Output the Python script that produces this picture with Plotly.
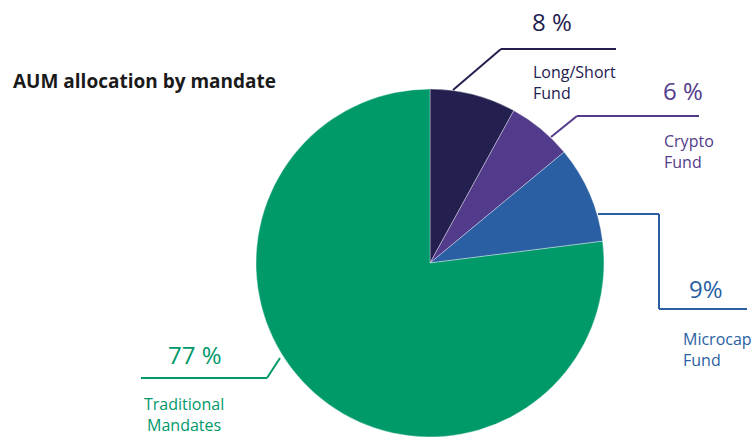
import plotly.graph_objects as go

W, H = 752, 437

# ---- data ----
categories = ["Long/Short Fund", "Crypto Fund", "Microcap Fund", "Traditional Mandates"]
values = [8, 6, 9, 77]
pct_labels = ["8 %", "6 %", "9%", "77 %"]
name_labels = ["Long/Short<br>Fund", "Crypto<br>Fund", "Microcap<br>Fund", "Traditional<br>Mandates"]
colors = ["#23204f", "#533b8b", "#2a5fa3", "#00996a"]

def px(x):
    return x / W

def py(y):
    return 1 - y / H

# pie geometry (pixels)
cx, cy, r = 430, 263, 174

fig = go.Figure(go.Pie(
    labels=categories,
    values=values,
    sort=False,
    direction="clockwise",
    rotation=0,
    marker=dict(colors=colors, line=dict(color="rgba(255,255,255,0.6)", width=0.6)),
    textinfo="none",
    hoverinfo="label+percent",
    domain=dict(x=[px(cx - r), px(cx + r)], y=[py(cy + r), py(cy - r)]),
    showlegend=False,
))

font_family = "'Open Sans', sans-serif"

# leader line paths in pixel coords
leaders = [
    [(453, 90), (501, 49), (616, 49)],
    [(551, 137), (577, 116), (699, 116)],
    [(598, 214), (659, 214), (659, 309), (747, 309)],
    [(280, 358), (267, 378), (141, 378)],
]
shapes = []
for pts, c in zip(leaders, colors):
    for (x0, y0), (x1, y1) in zip(pts[:-1], pts[1:]):
        shapes.append(dict(type="line", xref="paper", yref="paper",
                           x0=px(x0), y0=py(y0), x1=px(x1), y1=py(y1),
                           line=dict(color=c, width=2)))

# percent labels (center positions) and name labels
pct_pos = [(552, 22), (683, 90), (706, 288), (195, 354)]
name_pos = [(531, 83, "left"), (662, 151, "left"), (681, 349, "left"), (184, 414, "center")]

annotations = []
for t, (x, y), c in zip(pct_labels, pct_pos, colors):
    annotations.append(dict(text=t, x=px(x), y=py(y), xref="paper", yref="paper",
                            xanchor="center", yanchor="middle", showarrow=False,
                            font=dict(family=font_family, size=24, color=c)))
for t, (x, y, al), c in zip(name_labels, name_pos, colors):
    annotations.append(dict(text=t, x=px(x), y=py(y), xref="paper", yref="paper",
                            xanchor=al, yanchor="middle", align=al, showarrow=False,
                            font=dict(family=font_family, size=16, color=c)))

annotations.append(dict(text="<b>AUM allocation by mandate</b>", x=px(11), y=py(81),
                        xref="paper", yref="paper", xanchor="left", yanchor="middle",
                        showarrow=False,
                        font=dict(family=font_family, size=19, color="#1a1a1a")))

fig.update_layout(
    width=W, height=H,
    margin=dict(l=0, r=0, t=0, b=0),
    paper_bgcolor="white", plot_bgcolor="white",
    shapes=shapes, annotations=annotations,
)

fig.write_html("out.html", config={"displayModeBar": False},
               post_script="document.body.style.margin='0';document.body.style.overflow='hidden';")
